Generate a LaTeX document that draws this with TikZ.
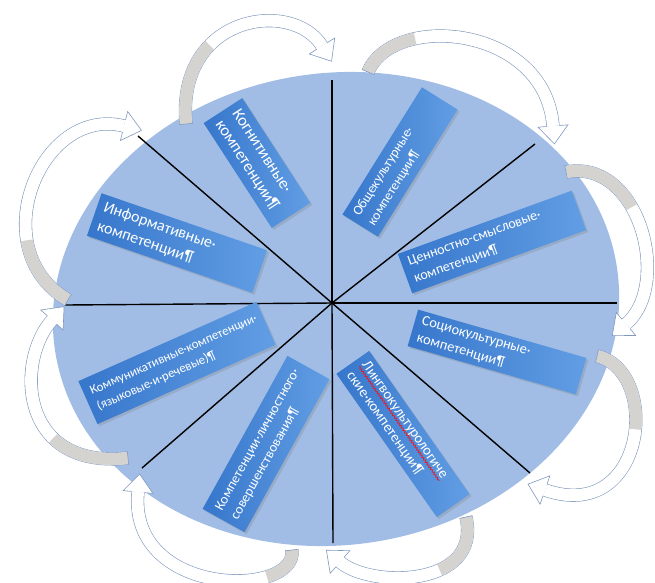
\documentclass[tikz,border=0pt]{standalone}
\usepackage{fontspec}
\setmainfont{Carlito}
\usetikzlibrary{calc,shadows,decorations.pathmorphing}

\definecolor{ellfill}{RGB}{161,189,229}
\definecolor{boxA}{RGB}{54,118,203}
\definecolor{boxB}{RGB}{98,158,228}
\definecolor{arrline}{RGB}{128,152,190}
\definecolor{arrgray}{RGB}{212,211,207}
\definecolor{spellred}{RGB}{225,30,45}

% #1 tail, #2 control 1, #3 control 2, #4 head base, #5 length of grey part
\newcommand{\bandarrow}[5]{%
  \draw[arrline, line width=13.2pt] (#1) .. controls (#2) and (#3) .. (#4);
  \draw[white, line width=12pt] (#1) .. controls (#2) and (#3) .. (#4);
  \draw[arrgray, line width=12pt, dash pattern=on #5 off 4000pt] (#1) .. controls (#2) and (#3) .. (#4);
  \draw[arrline, line width=0.6pt] ($(#1)!6.6pt!90:(#2)$) -- ($(#1)!6.6pt!-90:(#2)$);
  \fill[white] ($(#4)!15pt!90:(#3)$) -- ($(#4)!-18pt!(#3)$) -- ($(#4)!15pt!-90:(#3)$) -- cycle;
  \draw[arrline, line width=0.6pt, line join=miter]
    ($(#4)!6.3pt!90:(#3)$) -- ($(#4)!15pt!90:(#3)$) -- ($(#4)!-18pt!(#3)$)
    -- ($(#4)!15pt!-90:(#3)$) -- ($(#4)!6.3pt!-90:(#3)$);
}
\newsavebox{\lingbox}

\begin{document}
\sbox{\lingbox}{\fontsize{14.5}{18.5}\selectfont\color{white}Лингвокультурологиче}%
\begin{tikzpicture}[x=1pt,y=-1pt,
  comp/.style={draw=none, left color=boxA, right color=boxB, text=white,
    align=left, inner xsep=7pt, inner ysep=2pt,
    font=\fontsize{14}{18}\selectfont,
    drop shadow={opacity=0.3, shadow xshift=2pt, shadow yshift=-2pt}},
  divline/.style={line width=1.4pt, black}]
\useasboundingbox (0,0) rectangle (655,582);

% big ellipse
\fill[ellfill, rotate around={8:(336,309)}] (336,309) ellipse [x radius=284, y radius=236];

% dividing lines
\coordinate (O) at (332,303);
\coordinate (eN) at (332,80);
\coordinate (eS) at (333,543);
\coordinate (eW) at (65,305);
\coordinate (eE) at (617,303);
\coordinate (eNW) at (138,136);
\coordinate (eNE) at (535,144);
\coordinate (eSW) at (142,468);
\coordinate (eSE) at (530,473);
\foreach \e in {eN,eS,eW,eE,eNW,eNE,eSW,eSE} \draw[divline] (O) -- (\e);

% competence boxes
\node[comp, rotate=-57, minimum width=125pt, minimum height=46pt, text width=111pt,
  font=\fontsize{16.5}{20}\selectfont] (kog) at (257,163)
  {Когнитивные·\\компетенции¶};
\node[comp, rotate=58, minimum width=150pt, minimum height=42pt, text width=136pt,
  font=\fontsize{13.5}{17.5}\selectfont] (obs) at (400,162)
  {Общекультурные·\\компетенции¶};
\node[comp, rotate=-19, minimum width=175pt, minimum height=45pt, text width=161pt,
  font=\fontsize{16}{20}\selectfont] (inf) at (177,243)
  {Информативные·\\компетенции¶};
\node[comp, rotate=20, minimum width=185pt, minimum height=42pt, text width=171pt] (cen) at (492,242)
  {Ценностно-смысловые·\\компетенции¶};
\node[comp, rotate=-16, minimum width=175pt, minimum height=38pt, text width=161pt,
  font=\fontsize{14.4}{18}\selectfont] (soc) at (497,352)
  {Социокультурные·\\компетенции¶};
\node[comp, rotate=24, minimum width=195pt, minimum height=47pt, text width=181pt,
  font=\fontsize{12.8}{17}\selectfont] (kom) at (177,363)
  {Коммуникативные·компетенции·\\(языковые·и·речевые)¶};
\node[comp, rotate=61, minimum width=175pt, minimum height=48pt, text width=161pt,
  font=\fontsize{13.8}{18}\selectfont] (lic) at (266,444)
  {Компетенции·личностного·\\совершенствования¶};
\node[comp, rotate=-55, minimum width=175pt, minimum height=40pt, text width=161pt,
  font=\fontsize{14.5}{18.5}\selectfont] (lin) at (403,434)
  {\usebox{\lingbox}\\ские·компетенции¶};
% spell-check wavy underline
\begin{scope}[shift={(lin.center)}, rotate=-55]
  \draw[spellred, line width=0.8pt, decorate, decoration={snake, amplitude=0.9pt, segment length=3pt}]
    (-80.5pt,2.8pt) -- ({-80.5pt+\wd\lingbox},2.8pt);
\end{scope}

% curved arrows around the ellipse
\coordinate (a1t) at (186,124); \coordinate (a1a) at (176,15);  \coordinate (a1b) at (292,-2);  \coordinate (a1h) at (322,46);
\coordinate (a2t) at (368,72);  \coordinate (a2a) at (393,12);  \coordinate (a2b) at (545,25);  \coordinate (a2h) at (553,126);
\coordinate (a3t) at (566,172); \coordinate (a3a) at (640,158); \coordinate (a3b) at (672,285); \coordinate (a3h) at (626,324);
\coordinate (a4t) at (597,356); \coordinate (a4a) at (662,372); \coordinate (a4b) at (646,525); \coordinate (a4h) at (545,490);
\coordinate (a5t) at (466,517); \coordinate (a5a) at (482,588); \coordinate (a5b) at (370,588); \coordinate (a5h) at (340,562);
\coordinate (a6t) at (292,550); \coordinate (a6a) at (298,598); \coordinate (a6b) at (128,598); \coordinate (a6h) at (138,492);
\coordinate (a7t) at (128,458); \coordinate (a7a) at (18,470);  \coordinate (a7b) at (16,360);  \coordinate (a7h) at (52,320);
\coordinate (a8t) at (68,300);  \coordinate (a8a) at (-18,250); \coordinate (a8b) at (40,105);  \coordinate (a8h) at (124,126);

\bandarrow{a1t}{a1a}{a1b}{a1h}{85pt}
\bandarrow{a2t}{a2a}{a2b}{a2h}{60pt}
\bandarrow{a3t}{a3a}{a3b}{a3h}{80pt}
\bandarrow{a4t}{a4a}{a4b}{a4h}{90pt}
\bandarrow{a5t}{a5a}{a5b}{a5h}{65pt}
\bandarrow{a6t}{a6a}{a6b}{a6h}{40pt}
\bandarrow{a7t}{a7a}{a7b}{a7h}{80pt}
\bandarrow{a8t}{a8a}{a8b}{a8h}{75pt}
\end{tikzpicture}
\end{document}
